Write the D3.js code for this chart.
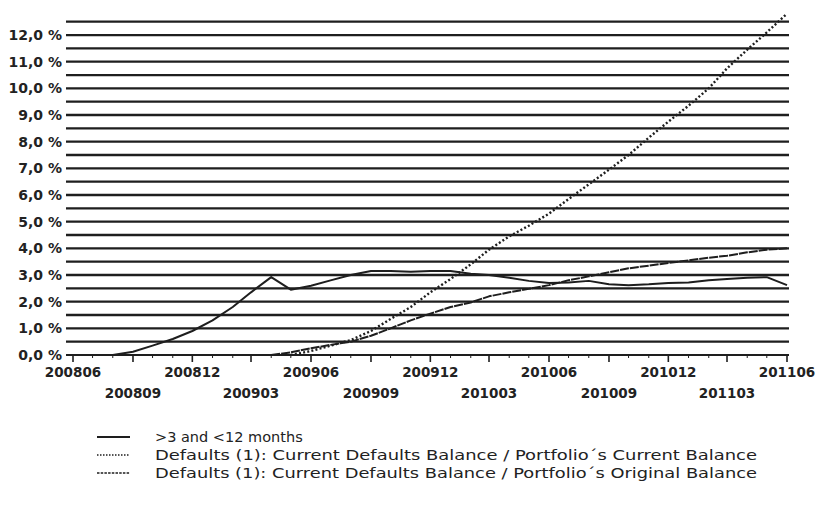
<!DOCTYPE html>
<html>
<head>
<meta charset="utf-8">
<script src="https://cdn.jsdelivr.net/npm/d3@7"></script>
<style>
  html, body { margin: 0; padding: 0; background: #fff; }
  svg { display: block; }
  text { font-family: "DejaVu Sans", Verdana, sans-serif; fill: #222; }
</style>
</head>
<body>
<svg id="chart" width="815" height="506"></svg>
<script>
// ---- data (month index 0 = 200806) ----
const months = d3.range(0, 37).map(i => d3.timeMonth.offset(new Date(2008, 5, 1), i));
const labelsTop = ["200806", "200812", "200906", "200912", "201006", "201012", "201106"];
const labelsBottom = ["200809", "200903", "200909", "201003", "201009", "201103"];
const yTickValues = [0, 1, 2, 3, 4, 5, 6, 7, 8, 9, 10, 11, 12];
const seriesNames = [
  ">3 and <12 months",
  "Defaults (1): Current Defaults Balance / Portfolio\u00b4s Current Balance",
  "Defaults (1): Current Defaults Balance / Portfolio\u00b4s Original Balance"
];
// >3 and <12 months: starts at month 2 (200808)
const arrearsStart = 2;
const arrears = [0.0, 0.12, 0.35, 0.6, 0.9, 1.3, 1.8, 2.35, 2.92, 2.45, 2.6, 2.8, 3.0, 3.15, 3.15,
  3.12, 3.15, 3.15, 3.05, 3.0, 2.9, 2.78, 2.7, 2.72, 2.78, 2.65, 2.62, 2.65, 2.7, 2.72, 2.8, 2.85,
  2.9, 2.92, 2.62];
// Defaults / current balance: starts at month 11 (200905)
const curStart = 11;
const defCurrent = [0.0, 0.15, 0.35, 0.56, 0.9, 1.35, 1.8, 2.35, 2.85, 3.4, 3.95, 4.45, 4.85, 5.3,
  5.85, 6.4, 6.95, 7.5, 8.15, 8.75, 9.35, 10.0, 10.75, 11.45, 12.1, 12.8];
// Defaults / original balance: starts at month 10 (200904)
const origStart = 10;
const defOriginal = [0.0, 0.1, 0.25, 0.38, 0.5, 0.72, 1.0, 1.3, 1.55, 1.8, 1.97, 2.2, 2.35, 2.48,
  2.62, 2.8, 2.95, 3.1, 3.25, 3.35, 3.45, 3.55, 3.65, 3.72, 3.85, 3.95, 4.0];

// ---- layout ----
const svg = d3.select("#chart");
const x = d3.scaleTime().domain([months[0], months[36]]).range([73, 787]);
const y = d3.scaleLinear().domain([0, 12.5]).range([355, 21.7]);
const gx0 = 66, gx1 = 789;
const ink = "#1e1e1e";

// gridlines every 0.5
const grid = d3.range(0.5, 12.51, 0.5);
svg.append("g").selectAll("line").data(grid).join("line")
  .attr("x1", gx0).attr("x2", gx1)
  .attr("y1", d => y(d)).attr("y2", d => y(d))
  .attr("stroke", ink).attr("stroke-width", 2.3);

// y labels
svg.append("g").selectAll("text").data(yTickValues).join("text")
  .attr("x", 62).attr("y", d => y(d)).attr("dy", "0.36em")
  .attr("text-anchor", "end")
  .style("font-size", "14px").style("font-weight", "bold")
  .text(d => d.toFixed(1).replace(".", ",") + " %");

// x axis line
svg.append("line").attr("x1", gx0).attr("x2", gx1).attr("y1", y(0)).attr("y2", y(0))
  .attr("stroke", ink).attr("stroke-width", 2);

// ticks
const major = months.filter((d, i) => i % 3 === 0);
const minor = months.filter((d, i) => i % 3 !== 0);
svg.append("g").selectAll("line").data(major).join("line")
  .attr("x1", d => x(d)).attr("x2", d => x(d)).attr("y1", y(0)).attr("y2", y(0) + 7)
  .attr("stroke", ink).attr("stroke-width", 1.6);
svg.append("g").selectAll("line").data(minor).join("line")
  .attr("x1", d => x(d)).attr("x2", d => x(d)).attr("y1", y(0)).attr("y2", y(0) + 3)
  .attr("stroke", ink).attr("stroke-width", 1);

const parse = d3.timeParse("%Y%m");
svg.append("g").selectAll("text").data(labelsTop).join("text")
  .attr("x", d => x(parse(d))).attr("y", 377)
  .attr("text-anchor", "middle").style("font-size", "13.5px").style("font-weight", "bold")
  .text(d => d);
svg.append("g").selectAll("text").data(labelsBottom).join("text")
  .attr("x", d => x(parse(d))).attr("y", 398)
  .attr("text-anchor", "middle").style("font-size", "13.5px").style("font-weight", "bold")
  .text(d => d);

// series
const line = d3.line().x(d => x(d.date)).y(d => y(d.v));
function toPts(arr, start) { return arr.map((v, i) => ({ date: months[start + i], v })); }
const styles = [
  { dash: null, w: 2 },
  { dash: "2,2.2", w: 2.4 },
  { dash: "9,1", w: 2 }
];
const series = [toPts(arrears, arrearsStart), toPts(defCurrent, curStart), toPts(defOriginal, origStart)];
series.forEach((pts, i) => {
  svg.append("path").datum(pts).attr("d", line)
    .attr("fill", "none").attr("stroke", ink).attr("stroke-width", styles[i].w)
    .attr("stroke-linejoin", "round")
    .attr("stroke-dasharray", styles[i].dash);
});

// legend
const lg = svg.append("g");
const legendWidths = [null, 602, 602];
seriesNames.forEach((name, i) => {
  const ly = 437 + i * 18;
  lg.append("line").attr("x1", 97).attr("x2", 130).attr("y1", ly).attr("y2", ly)
    .attr("stroke", ink).attr("stroke-width", i === 0 ? 2 : 1.6)
    .attr("stroke-dasharray", i === 0 ? null : (i === 1 ? "1.5,1.5" : "2.5,1.2"));
  const t = lg.append("text").attr("x", 155).attr("y", ly).attr("dy", "0.36em")
    .style("font-size", "14.5px").text(name);
  if (legendWidths[i]) t.attr("textLength", legendWidths[i]).attr("lengthAdjust", "spacingAndGlyphs");
});
</script>
</body>
</html>
